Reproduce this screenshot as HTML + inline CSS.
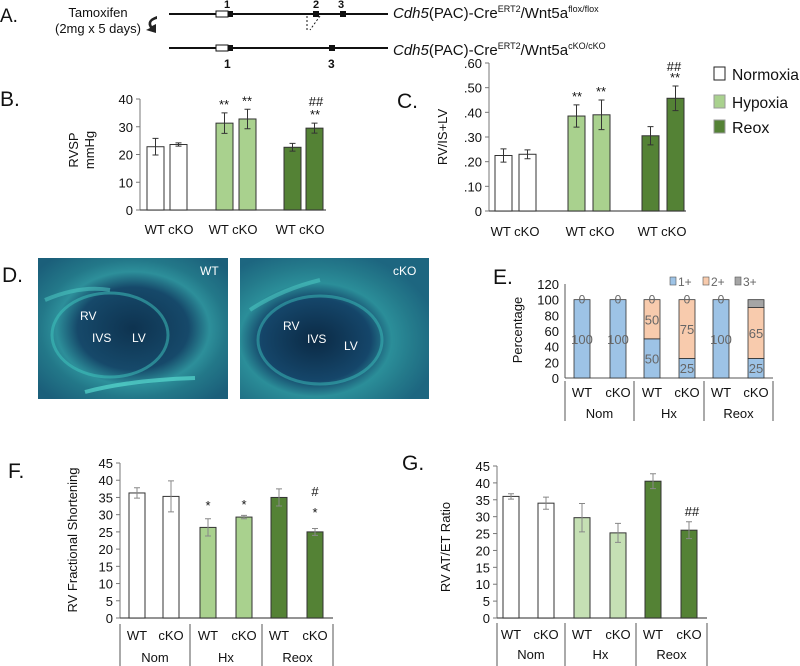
<!DOCTYPE html>
<html><head><meta charset="utf-8"><style>
html,body{margin:0;padding:0;background:#fff;}
svg{display:block;font-family:"Liberation Sans Narrow","Liberation Sans",sans-serif;}
.t{font-size:13px;fill:#111;}
.big{font-family:"Liberation Sans",sans-serif;font-size:17px;fill:#111;}
</style></head><body>
<svg id="fig" width="800" height="666" viewBox="0 0 800 666">
<defs>
<radialGradient id="bgA" cx="50%" cy="50%" r="65%"><stop offset="0" stop-color="#0e3350"/><stop offset="0.45" stop-color="#16496a"/><stop offset="0.62" stop-color="#2d8f9a"/><stop offset="0.75" stop-color="#237889"/><stop offset="1" stop-color="#1b5f7a"/></radialGradient>
<radialGradient id="bgB" cx="40%" cy="58%" r="65%"><stop offset="0" stop-color="#0b2a45"/><stop offset="0.45" stop-color="#15466a"/><stop offset="0.62" stop-color="#2b8e99"/><stop offset="0.8" stop-color="#247a8b"/><stop offset="1" stop-color="#1d6680"/></radialGradient>
</defs>
<g>
<text class="big" x="0" y="22" style="font-size:19px">A.</text>
<text class="t" x="98" y="17" text-anchor="middle">Tamoxifen</text>
<text class="t" x="98" y="33" text-anchor="middle">(2mg x 5 days)</text>
<path d="M157 16 Q145 20 150 28 L146 30 L156 33 L156 24 L152 26 Q149 21 157 19 Z" fill="#222"/>
<line x1="169" y1="14" x2="388" y2="14" stroke="#111" stroke-width="2"/>
<rect x="216" y="11" width="12" height="6" fill="#fff" stroke="#111"/>
<rect x="228" y="11" width="5" height="6" fill="#111"/>
<rect x="313" y="11" width="6" height="6" fill="#111"/>
<rect x="340" y="11" width="6" height="6" fill="#111"/>
<text class="t" x="224" y="8" style="font-size:11px;font-weight:bold">1</text>
<text class="t" x="313" y="8" style="font-size:11px;font-weight:bold">2</text>
<text class="t" x="338" y="8" style="font-size:11px;font-weight:bold">3</text>
<line x1="307" y1="16" x2="307" y2="30" stroke="#111" stroke-dasharray="2,2"/>
<line x1="320" y1="16" x2="310" y2="30" stroke="#111" stroke-dasharray="2,2"/>
<line x1="169" y1="48" x2="388" y2="48" stroke="#111" stroke-width="2"/>
<rect x="216" y="45" width="12" height="6" fill="#fff" stroke="#111"/>
<rect x="228" y="45" width="5" height="6" fill="#111"/>
<rect x="329" y="45" width="6" height="6" fill="#111"/>
<text class="t" x="224" y="68" style="font-size:12px;font-weight:bold">1</text>
<text class="t" x="328" y="68" style="font-size:12px;font-weight:bold">3</text>
<text class="t" x="393" y="18" style="font-size:15px"><tspan font-style="italic">Cdh5</tspan>(PAC)-Cre<tspan font-size="9" dy="-6">ERT2</tspan><tspan dy="6">/Wnt5a</tspan><tspan font-size="9" dy="-6">flox/flox</tspan></text>
<text class="t" x="393" y="55" style="font-size:15px"><tspan font-style="italic">Cdh5</tspan>(PAC)-Cre<tspan font-size="9" dy="-6">ERT2</tspan><tspan dy="6">/Wnt5a</tspan><tspan font-size="9" dy="-6">cKO/cKO</tspan></text>
</g>
<text class="big" x="0" y="106" style="font-size:21px">B.</text>
<text class="big" x="397" y="108" style="font-size:21px">C.</text>
<text class="big" x="2" y="282" style="font-size:21px">D.</text>
<text class="big" x="493" y="284" style="font-size:21px">E.</text>
<text class="big" x="8" y="478" style="font-size:21px">F.</text>
<text class="big" x="402" y="470" style="font-size:21px">G.</text>
<g>
<rect x="714" y="67" width="11" height="13" fill="#fff" stroke="#222"/>
<text class="t" x="732" y="80" style="font-size:16px" textLength="67" lengthAdjust="spacingAndGlyphs">Normoxia</text>
<rect x="714" y="95" width="11" height="13" fill="#a9d18e" stroke="#999"/>
<text class="t" x="732" y="108" style="font-size:16px" textLength="56" lengthAdjust="spacingAndGlyphs">Hypoxia</text>
<rect x="714" y="120" width="11" height="13" fill="#548235" stroke="#999"/>
<text class="t" x="732" y="133" style="font-size:16px">Reox</text>
</g>
<g>
<rect x="38" y="258" width="190" height="141" fill="url(#bgA)"/>
<ellipse cx="110" cy="335" rx="58" ry="42" fill="none" stroke="#3fc8c0" stroke-width="3" opacity="0.5"/>
<path d="M85 392 Q130 380 195 378" stroke="#5fe8d8" stroke-width="4" fill="none" opacity="0.6"/>
<path d="M45 300 Q80 285 110 290" stroke="#4fd0c8" stroke-width="4" fill="none" opacity="0.5"/>
<rect x="240" y="258" width="189" height="141" fill="url(#bgB)"/>
<ellipse cx="320" cy="340" rx="62" ry="44" fill="none" stroke="#3fc8c0" stroke-width="3" opacity="0.45"/>
<path d="M250 310 Q280 290 320 280" stroke="#4fd0c8" stroke-width="4" fill="none" opacity="0.5"/>
<g fill="#fff" font-family="Liberation Sans, sans-serif" font-size="12">
<text x="200" y="275">WT</text>
<text x="80" y="320">RV</text>
<text x="92" y="342">IVS</text>
<text x="132" y="342">LV</text>
<text x="393" y="275">cKO</text>
<text x="283" y="330">RV</text>
<text x="307" y="343">IVS</text>
<text x="344" y="350">LV</text>
</g>
</g>
<g id="charts"></g>
</svg>
<script>
// Panel B (RVSP)
const bCats = ["WT","cKO","WT","cKO","WT","cKO"];
const bValues = [22.8, 23.6, 31.3, 32.8, 22.6, 29.5];
const bErrors = [3.0, 0.6, 3.7, 3.5, 1.4, 1.8];
const bTicks = [0,10,20,30,40];
// Panel C (RV/IS+LV)
const cValues = [0.225, 0.23, 0.385, 0.39, 0.305, 0.457];
const cErrors = [0.027, 0.018, 0.045, 0.06, 0.037, 0.05];
const cTicks = [0,0.1,0.2,0.3,0.4,0.5,0.6];
const cTickLabels = ["0",".10",".20",".30",".40",".50",".60"];
// Panel E (stacked percentage)
const eOne = [100,100,50,25,100,25];
const eTwo = [0,0,50,75,0,65];
const eThree = [0,0,0,0,0,10];
const eTicks = [0,20,40,60,80,100,120];
const groups = ["Nom","Hx","Reox"];
// Panel F (RV fractional shortening)
const fValues = [36.3, 35.3, 26.3, 29.3, 35.0, 25.0];
const fErrors = [1.5, 4.5, 2.5, 0.5, 2.5, 1.0];
// Panel G (RV AT/ET ratio)
const gValues = [36.0, 34.0, 29.7, 25.2, 40.5, 26.0];
const gErrors = [0.8, 1.8, 4.2, 2.8, 2.2, 2.5];
const fgTicks = [0,5,10,15,20,25,30,35,40,45];

const NS="http://www.w3.org/2000/svg";
const root=document.getElementById('charts');
function mk(tag,attrs,parent,txt){const e=document.createElementNS(NS,tag);for(const k in attrs)e.setAttribute(k,attrs[k]);if(txt!==undefined)e.textContent=txt;(parent||root).appendChild(e);return e;}
function scale(d0,d1,r0,r1){return v=>r0+(v-d0)*(r1-r0)/(d1-d0);}

function barChart(o){
  const g=mk('g',{});
  
  
  const y=scale(0,o.max,o.y0,o.yTop);
  const ax=mk('line',{x1:o.ax,y1:o.yTop,x2:o.ax,y2:o.y0,stroke:'#777'},g);
  
  
  const bx=mk('line',{x1:o.ax,y1:o.y0,x2:o.axEnd,y2:o.y0,stroke:'#555','stroke-width':1.3},g);
  
  
  o.ticks.forEach((t,i)=>{
    const tl=mk('line',{x1:o.ax-4,y1:y(t),x2:o.ax,y2:y(t),stroke:'#777'},g);
    
    
    const tx=mk('text',{x:o.ax-7,y:y(t)+5,'text-anchor':'end',class:'t','font-size':o.fs||14},g,o.tickLabels?o.tickLabels[i]:String(t));
    
    
  });
  o.values.forEach((v,i)=>{
    const x=o.bx[i];
    const r=mk('rect',{x:x,y:y(v),width:o.bw,height:o.y0-y(v),fill:o.colors[i],stroke:o.stroke||'#333','stroke-width':1},g);
    
    
    if(o.errors){
      const cx=x+o.bw/2, e=o.errors[i];
      const eb=mk('path',{d:`M${cx} ${y(v-e)}V${y(v+e)}M${cx-3} ${y(v-e)}h6M${cx-3} ${y(v+e)}h6`,stroke:o.errColor||'#333',fill:'none'},g);
      
      
    }
  });
  return {g,y};
}
const white='#fff', hyp='#a9d18e', rex='#548235';
// B
let B=barChart({name:'chart-b-rvsp',ax:140,axEnd:326,y0:210,yTop:99,max:40,ticks:bTicks,values:bValues,errors:bErrors,
  bx:[147,170,216,239,284,306],bw:17,colors:[white,white,hyp,hyp,rex,rex],fs:14});
[[169,'WT cKO'],[233,'WT cKO'],[300,'WT cKO']].forEach(([x,s])=>{const t=mk('text',{x:x,y:234,'text-anchor':'middle',class:'t','font-size':15},B.g,s);});
const bt=mk('text',{transform:'translate(86,150) rotate(-90)','text-anchor':'middle',class:'t','font-size':15,'font-family':'Liberation Sans, sans-serif'},B.g);


mk('tspan',{x:0,y:-8},bt,'RVSP');mk('tspan',{x:0,y:8},bt,'mmHg');
[[224,'**',bValues[2]+bErrors[2]],[247,'**',bValues[3]+bErrors[3]],[315,'**',bValues[5]+bErrors[5]]].forEach(([x,s,v])=>{const t=mk('text',{x:x,y:B.y(v)-4,'text-anchor':'middle',class:'t','font-size':12},B.g,s);});
{const t=mk('text',{x:316,y:106,'text-anchor':'middle',class:'t','font-size':14},B.g,'##');}
// C
let C=barChart({name:'chart-c-fulton',ax:489,axEnd:686,y0:211,yTop:63,max:0.6,ticks:cTicks,tickLabels:cTickLabels,values:cValues,errors:cErrors,
  bx:[495,519,568,593,642,667],bw:17,colors:[white,white,hyp,hyp,rex,rex],fs:14});
[[515,'WT  cKO'],[590,'WT  cKO'],[662,'WT  cKO']].forEach(([x,s])=>{const t=mk('text',{x:x,y:236,'text-anchor':'middle',class:'t','font-size':15},C.g,s);});
{const t=mk('text',{transform:'translate(447,137) rotate(-90)','text-anchor':'middle',class:'t','font-size':16,'font-family':'Liberation Sans, sans-serif'},C.g,'RV/IS+LV');}
[[577,'**',2],[601,'**',3],[675,'**',5]].forEach(([x,s,i])=>{const t=mk('text',{x:x,y:C.y(cValues[i]+cErrors[i])-4,'text-anchor':'middle',class:'t','font-size':12},C.g,s);});
{const t=mk('text',{x:674,y:71,'text-anchor':'middle',class:'t','font-size':14},C.g,'##');}

function catAxis(g,seps,barX,bw,yLab,yGrp,yEnd){
  seps.forEach(x=>{const l=mk('line',{x1:x,y1:yLab-16,x2:x,y2:yEnd,stroke:'#555'},g);});
  barX.forEach((x,i)=>{const t=mk('text',{x:x+bw/2,y:yLab,'text-anchor':'middle',class:'t','font-size':14},g,bCats[i]);});
  groups.forEach((s,i)=>{const t=mk('text',{x:(seps[i]+seps[i+1])/2,y:yGrp,'text-anchor':'middle',class:'t','font-size':14},g,s);});
}
// E stacked
{
  const g=mk('g',{});
  
  
  const y=scale(0,120,378,284);
  const l1=mk('line',{x1:565,y1:284,x2:565,y2:378,stroke:'#555'},g);
  const l2=mk('line',{x1:565,y1:378,x2:773,y2:378,stroke:'#555'},g);
  eTicks.forEach(t=>{const tx=mk('text',{x:559,y:y(t)+5,'text-anchor':'end',class:'t','font-size':13},g,String(t));});
  const ex=[574,610,644,679,713,748], w=16;
  const cols=['#9dc3e6','#f8cbad','#a5a5a5'];
  ex.forEach((x,i)=>{
    let base=0;
    [eOne,eTwo,eThree].forEach((arr,k)=>{
      const v=arr[i];
      if(v>0){const r=mk('rect',{x:x,y:y(base+v),width:w,height:y(base)-y(base+v),fill:cols[k],stroke:'#333','stroke-width':0.8},g);
        
        if(k<2){const t=mk('text',{x:x+w/2,y:(y(base)+y(base+v))/2+5,'text-anchor':'middle',fill:'#666','font-size':13},g,String(v));}}
      base+=v;
    });
    if(eThree[i]===0){const t=mk('text',{x:x+w/2,y:y(base)+4,'text-anchor':'middle',fill:'#666','font-size':12},g,'0');}
  });
  catAxis(g,[565,634,704,773],ex,w,397,418,421);
  const yt=mk('text',{transform:'translate(522,330) rotate(-90)','text-anchor':'middle',class:'t','font-size':16,'font-family':'Liberation Sans, sans-serif'},g,'Percentage');
  [[670,'1+',cols[0]],[703,'2+',cols[1]],[735,'3+',cols[2]]].forEach(([x,s,c])=>{
    const r=mk('rect',{x:x,y:277,width:6,height:8,fill:c,stroke:'#555','stroke-width':0.6},g);
    const t=mk('text',{x:x+8,y:286,fill:'#666','font-size':12},g,s);
  });
}
// F
let F=barChart({name:'chart-f-fs',ax:120,axEnd:333,y0:618,yTop:463,max:45,ticks:fgTicks,values:fValues,errors:fErrors,
  bx:[129,163,200,236,271,307],bw:16,colors:[white,white,hyp,hyp,rex,rex],errColor:'#888',fs:14});
catAxis(F.g,[120,190,262,333],[129,163,200,236,271,307],16,640,662,666);
{const t=mk('text',{transform:'translate(77,540) rotate(-90)','text-anchor':'middle',class:'t','font-size':18,'font-family':'Liberation Sans, sans-serif'},F.g,'RV Fractional Shortening');}
[[208,'*',510],[244,'*',509],[315,'*',517]].forEach(([x,s,yy])=>{const t=mk('text',{x:x,y:yy,'text-anchor':'middle',class:'t','font-size':13},F.g,s);});
{const t=mk('text',{x:315,y:496,'text-anchor':'middle',class:'t','font-size':15},F.g,'#');}
// G
let G=barChart({name:'chart-g-atet',ax:497,axEnd:707,y0:618,yTop:466,max:45,ticks:fgTicks,values:gValues,errors:gErrors,
  bx:[503,538,574,610,645,681],bw:16,colors:[white,white,'#c5e0b4','#c5e0b4',rex,rex],errColor:'#888',fs:14});
catAxis(G.g,[497,565,636,707],[503,538,574,610,645,681],16,639,659,666);
{const t=mk('text',{transform:'translate(450,547) rotate(-90)','text-anchor':'middle',class:'t','font-size':18,'font-family':'Liberation Sans, sans-serif'},G.g,'RV AT/ET Ratio');}
{const t=mk('text',{x:692,y:516,'text-anchor':'middle',class:'t','font-size':14},G.g,'##');}
</script>
</body></html>
